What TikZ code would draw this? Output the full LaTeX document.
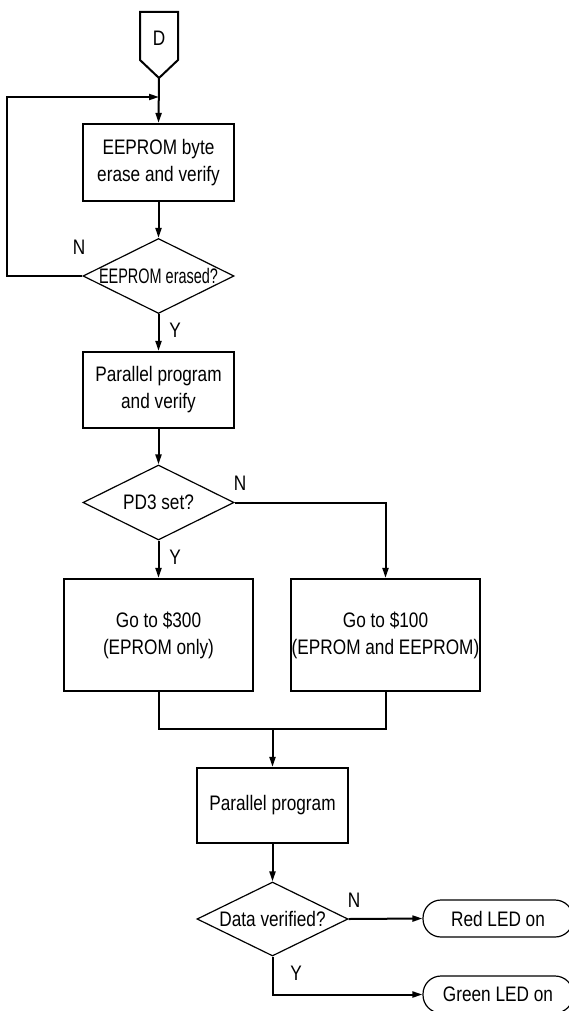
\documentclass[tikz,border=0pt]{standalone}
\usepackage{fontspec}
\setmainfont[FakeStretch=0.82]{Liberation Sans}
\usetikzlibrary{arrows.meta,shapes.geometric}
\begin{document}
\begin{tikzpicture}[x=1pt,y=-1pt,
  every node/.style={font=\fontsize{21}{27}\selectfont},
  procbox/.style={draw,line width=2.2pt,rectangle,inner sep=0pt,minimum width=151pt,minimum height=77pt,align=center},
  bigbox/.style={procbox,minimum width=189pt,minimum height=112pt},
  decbox/.style={draw,line width=1.2pt,diamond,inner sep=0pt,minimum width=151pt,minimum height=75pt},
  termbox/.style={draw,line width=1.2pt,rectangle,rounded corners=18pt,inner sep=0pt,minimum width=150pt,minimum height=37pt},
  conn/.style={line width=2pt},
  arr/.style={conn,-{Triangle[length=10pt,width=6pt]}},
  lbl/.style={inner sep=0pt}]
\useasboundingbox (0,0) rectangle (568,1011);
% start connector
\draw[line width=2pt,line join=miter] (140,12) -- (178,12) -- (178,60) -- (159,78) -- (140,60) -- cycle;
\node (D) at (159,38) {D};
\coordinate (Dtip) at (159,78);
\coordinate (j1) at (159,97);
% nodes
\node[procbox] (b1) at (158.5,162.5) {EEPROM byte\\erase and verify};
\node[decbox] (d1) at (158.5,276) {};
\node (d1t) at (158.5,276) {\scalebox{0.84}[1]{EEPROM erased?}};
\node[procbox,minimum height=76pt] (b2) at (158.5,390) {Parallel program\\and verify};
\node[decbox] (d2) at (158.5,502.5) {};
\node (d2t) at (158.5,502.5) {PD3 set?};
\node[bigbox] (b3) at (158.5,635) {Go to \$300\\(EPROM only)};
\node[bigbox] (b4) at (385.5,635) {Go to \$100\\(EPROM and EEPROM)};
\node[procbox,minimum height=75pt] (b5) at (272.5,805.5) {Parallel program};
\node[decbox,minimum height=74pt] (d3) at (272.5,919) {};
\node (d3t) at (272.5,919) {Data verified?};
\node[termbox] (red) at (498,918.5) {Red LED on};
\node[termbox] (green) at (498,994.5) {Green LED on};
% labels
\node[lbl] (n1) at (79,247) {N};
\node[lbl] (y1) at (175,330) {Y};
\node[lbl] (n2) at (240,483) {N};
\node[lbl] (y2) at (175,557) {Y};
\node[lbl] (n3) at (354,900) {N};
\node[lbl] (y3) at (296,973) {Y};
% connectors
\draw[arr] (Dtip) -- (b1.north);
\draw[arr] (d1.west) -- (7,276) |- (j1);
\draw[arr] (b1.south) -- (d1.north);
\draw[arr] (d1.south) -- (b2.north);
\draw[arr] (b2.south) -- (d2.north);
\draw[arr] (d2.south) -- (b3.north);
\draw[arr] (d2.east) -| (b4.north);
\coordinate (m) at (272.5,729);
\draw[conn] (b3.south) |- (m) -| (b4.south);
\draw[arr] (m) -- (b5.north);
\draw[arr] (b5.south) -- (d3.north);
\draw[arr] (d3.east) -- (red.west);
\draw[arr] (d3.south) |- (green.west);
\end{tikzpicture}
\end{document}
